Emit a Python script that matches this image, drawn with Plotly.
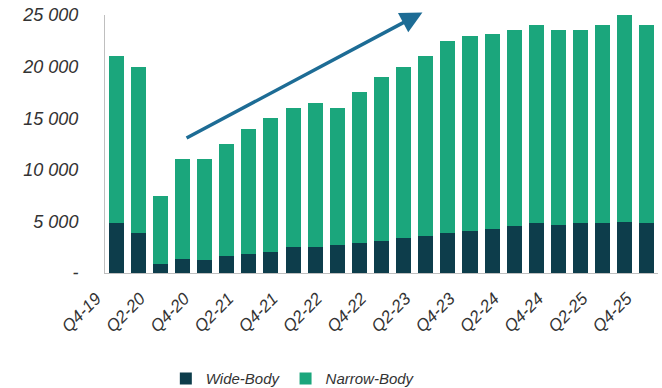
import plotly.graph_objects as go

quarters = ["Q4-19","Q1-20","Q2-20","Q3-20","Q4-20","Q1-21","Q2-21","Q3-21","Q4-21",
            "Q1-22","Q2-22","Q3-22","Q4-22","Q1-23","Q2-23","Q3-23","Q4-23",
            "Q1-24","Q2-24","Q3-24","Q4-24","Q1-25","Q2-25","Q3-25","Q4-25"]
total = [21000, 20000, 7500, 11000, 11000, 12500, 14000, 15000, 16000, 16500, 16000,
         17500, 19000, 20000, 21000, 22500, 23000, 23200, 23500, 24000, 23500, 23500,
         24000, 25000, 24000]
wide_body = [4800, 3900, 900, 1400, 1300, 1600, 1850, 2000, 2500, 2500, 2700, 2900,
             3100, 3400, 3600, 3900, 4100, 4300, 4600, 4800, 4700, 4800, 4800, 4900, 4800]
narrow_body = [t - w for t, w in zip(total, wide_body)]

x_tick_labels = quarters[::2]
y_tick_vals = [0, 5000, 10000, 15000, 20000, 25000]
y_tick_text = ["-", "5 000", "10 000", "15 000", "20 000", "25 000"]

arrow_start = (3.12, 13000)
arrow_end = (13.85, 25250)

WIDE_COLOR = "#0d3d4b"
NARROW_COLOR = "#1ba67c"
ARROW_COLOR = "#1d6c95"
FONT = "Liberation Sans, Arial, sans-serif"

fig = go.Figure()
fig.add_trace(go.Bar(x=quarters, y=wide_body, name="Wide-Body",
                     marker=dict(color=WIDE_COLOR, line=dict(width=0))))
fig.add_trace(go.Bar(x=quarters, y=narrow_body, name="Narrow-Body",
                     marker=dict(color=NARROW_COLOR, line=dict(width=0))))

fig.add_annotation(x=arrow_end[0], y=arrow_end[1], ax=arrow_start[0], ay=arrow_start[1],
                   xref="x", yref="y", axref="x", ayref="y", text="",
                   showarrow=True, arrowhead=2, arrowsize=1.25, arrowwidth=3.5,
                   arrowcolor=ARROW_COLOR)

fig.update_layout(
    width=662, height=388,
    margin=dict(l=105, r=4, t=15, b=115, autoexpand=False),
    barmode="stack", bargap=0.32,
    plot_bgcolor="white", paper_bgcolor="white",
    font=dict(family=FONT, color="#333333", size=15),
    showlegend=True,
    legend=dict(orientation="h", x=0.11, xanchor="left", y=-0.41, yanchor="middle",
                font=dict(size=15, color="#333333", style="italic"),
                traceorder="normal", itemwidth=30, tracegroupgap=0),
)
fig.update_xaxes(
    type="category", tickmode="array", tickvals=x_tick_labels,
    ticktext=x_tick_labels,
    tickangle=-45, showline=True, linecolor="#bfbfbf", linewidth=1,
    ticks="", showgrid=False,
    tickfont=dict(size=17, color="#333333", style="italic"),
    automargin=False, ticklabelshift=-20, ticklabelstandoff=8,
)
fig.update_yaxes(
    range=[0, 25000], tickmode="array", tickvals=y_tick_vals,
    ticktext=y_tick_text,
    showline=True, linecolor="#bfbfbf", linewidth=1, showgrid=False,
    ticks="", ticklabelstandoff=22, zeroline=False, automargin=False,
    tickfont=dict(size=18, color="#333333", style="italic"),
)

fig.write_html("out.html")
